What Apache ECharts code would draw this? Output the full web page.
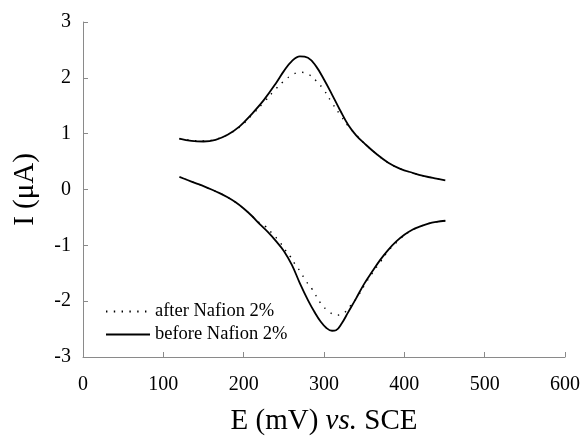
<!DOCTYPE html>
<html>
<head>
<meta charset="utf-8">
<script src="https://cdn.jsdelivr.net/npm/echarts@6/dist/echarts.min.js"></script>
<style>
  html, body { margin: 0; padding: 0; background: #fff; }
  #main { width: 584px; height: 441px; }
</style>
</head>
<body>
<div id="main"></div>
<script>
// potential (mV) / current (uA), forward (anodic) and reverse (cathodic) scans
var beforeFwdE = [120, 135, 150, 165, 180, 195, 210, 225, 240, 250, 260, 270, 280, 290, 300, 310, 320, 330, 340, 350, 365, 380, 395, 410, 425, 440, 451];
var beforeFwdI = [0.91, 0.87, 0.86, 0.89, 0.98, 1.13, 1.35, 1.6, 1.9, 2.12, 2.3, 2.385, 2.36, 2.21, 1.97, 1.7, 1.42, 1.16, 0.97, 0.83, 0.64, 0.48, 0.37, 0.3, 0.24, 0.195, 0.165];
var beforeRevE = [451, 440, 430, 420, 410, 400, 390, 380, 370, 360, 350, 340, 330, 322, 315, 310, 303, 296, 288, 280, 270, 260, 250, 240, 230, 220, 210, 200, 190, 180, 170, 160, 150, 140, 130, 120];
var beforeRevI = [-0.56, -0.58, -0.61, -0.66, -0.72, -0.81, -0.93, -1.08, -1.26, -1.47, -1.69, -1.95, -2.2, -2.4, -2.52, -2.53, -2.48, -2.37, -2.19, -1.98, -1.68, -1.35, -1.1, -0.92, -0.76, -0.62, -0.47, -0.34, -0.23, -0.14, -0.065, 0.0, 0.06, 0.115, 0.17, 0.225];

var afterFwdE = [120, 135, 150, 165, 180, 195, 210, 225, 240, 250, 260, 270, 280, 290, 300, 310, 320, 330, 340, 350, 365, 380, 395, 410, 425, 440, 451];
var afterFwdI = [0.91, 0.88, 0.87, 0.9, 0.98, 1.12, 1.33, 1.56, 1.8, 1.94, 2.05, 2.1, 2.07, 1.95, 1.78, 1.55, 1.34, 1.14, 0.98, 0.83, 0.64, 0.48, 0.37, 0.3, 0.24, 0.195, 0.165];
var afterRevE = [451, 440, 430, 420, 407, 395, 388, 380, 370, 360, 350, 341, 333, 324, 315, 305, 296, 285, 277, 271, 264, 258, 250, 245, 235, 227, 220, 210, 200, 190, 180, 170, 160, 150, 140, 130, 120];
var afterRevI = [-0.56, -0.58, -0.61, -0.66, -0.75, -0.88, -0.98, -1.1, -1.3, -1.5, -1.72, -1.94, -2.08, -2.22, -2.25, -2.17, -2.04, -1.78, -1.63, -1.48, -1.34, -1.2, -1.05, -0.94, -0.78, -0.66, -0.6, -0.47, -0.34, -0.23, -0.14, -0.065, 0.0, 0.06, 0.115, 0.17, 0.225];

var xTicks = [0, 100, 200, 300, 400, 500, 600];
var yTicks = [-3, -2, -1, 0, 1, 2, 3];

function pairs(xs, ys) {
    var out = [];
    for (var i = 0; i < xs.length; i++) out.push([xs[i], ys[i]]);
    return out;
}

var serif = '"Liberation Serif", "DejaVu Serif", serif';
var axisGrey = '#8a8a8a';
var dotted = { color: '#000', width: 1.4, type: [1.4, 6.4], cap: 'butt' };
var solid = { color: '#000', width: 1.8 };

function curve(name, data, lineStyle, z) {
    return {
        name: name,
        type: 'line',
        smooth: 0.4,
        symbol: 'none',
        lineStyle: lineStyle,
        itemStyle: { color: '#000' },
        data: data,
        z: z
    };
}

var chart = echarts.init(document.getElementById('main'));
chart.setOption({
    animation: false,
    textStyle: { fontFamily: serif, color: '#000' },
    grid: { left: 83, right: 19, top: 22, bottom: 81 },
    legend: {
        orient: 'vertical',
        left: 100,
        top: 297,
        itemWidth: 44,
        itemHeight: 12,
        itemGap: 4,
        itemStyle: { color: 'rgba(0,0,0,0)', borderColor: 'rgba(0,0,0,0)', borderWidth: 0 },
        textStyle: { fontFamily: serif, fontSize: 18.5, color: '#000' },
        data: ['after Nafion 2%', 'before Nafion 2%']
    },
    xAxis: {
        type: 'value',
        min: xTicks[0],
        max: xTicks[xTicks.length - 1],
        interval: 100,
        name: '{n|E (mV) }{i|vs.}{n| SCE}',
        nameLocation: 'middle',
        nameGap: 50,
        nameTextStyle: {
            rich: {
                n: { fontFamily: serif, fontSize: 29, color: '#000' },
                i: { fontFamily: serif, fontSize: 29, fontStyle: 'italic', color: '#000' }
            }
        },
        axisLine: { onZero: false, lineStyle: { color: axisGrey, width: 1 } },
        axisTick: { inside: true, length: 5, lineStyle: { color: axisGrey } },
        axisLabel: { fontFamily: serif, fontSize: 20, color: '#000', margin: 18 },
        splitLine: { show: false }
    },
    yAxis: {
        type: 'value',
        min: yTicks[0],
        max: yTicks[yTicks.length - 1],
        interval: 1,
        name: 'I (μA)',
        nameLocation: 'middle',
        nameGap: 43,
        nameTextStyle: { fontFamily: serif, fontSize: 29, color: '#000' },
        axisLine: { show: true, onZero: false, lineStyle: { color: axisGrey, width: 1 } },
        axisTick: { show: true, inside: true, length: 5, lineStyle: { color: axisGrey } },
        axisLabel: { fontFamily: serif, fontSize: 20, color: '#000', margin: 12 },
        splitLine: { show: false }
    },
    series: [
        curve('after Nafion 2%', pairs(afterFwdE, afterFwdI), dotted, 3),
        curve('after Nafion 2%', pairs(afterRevE, afterRevI), dotted, 3),
        curve('before Nafion 2%', pairs(beforeFwdE, beforeFwdI), solid, 2),
        curve('before Nafion 2%', pairs(beforeRevE, beforeRevI), solid, 2)
    ]
});
</script>
</body>
</html>
